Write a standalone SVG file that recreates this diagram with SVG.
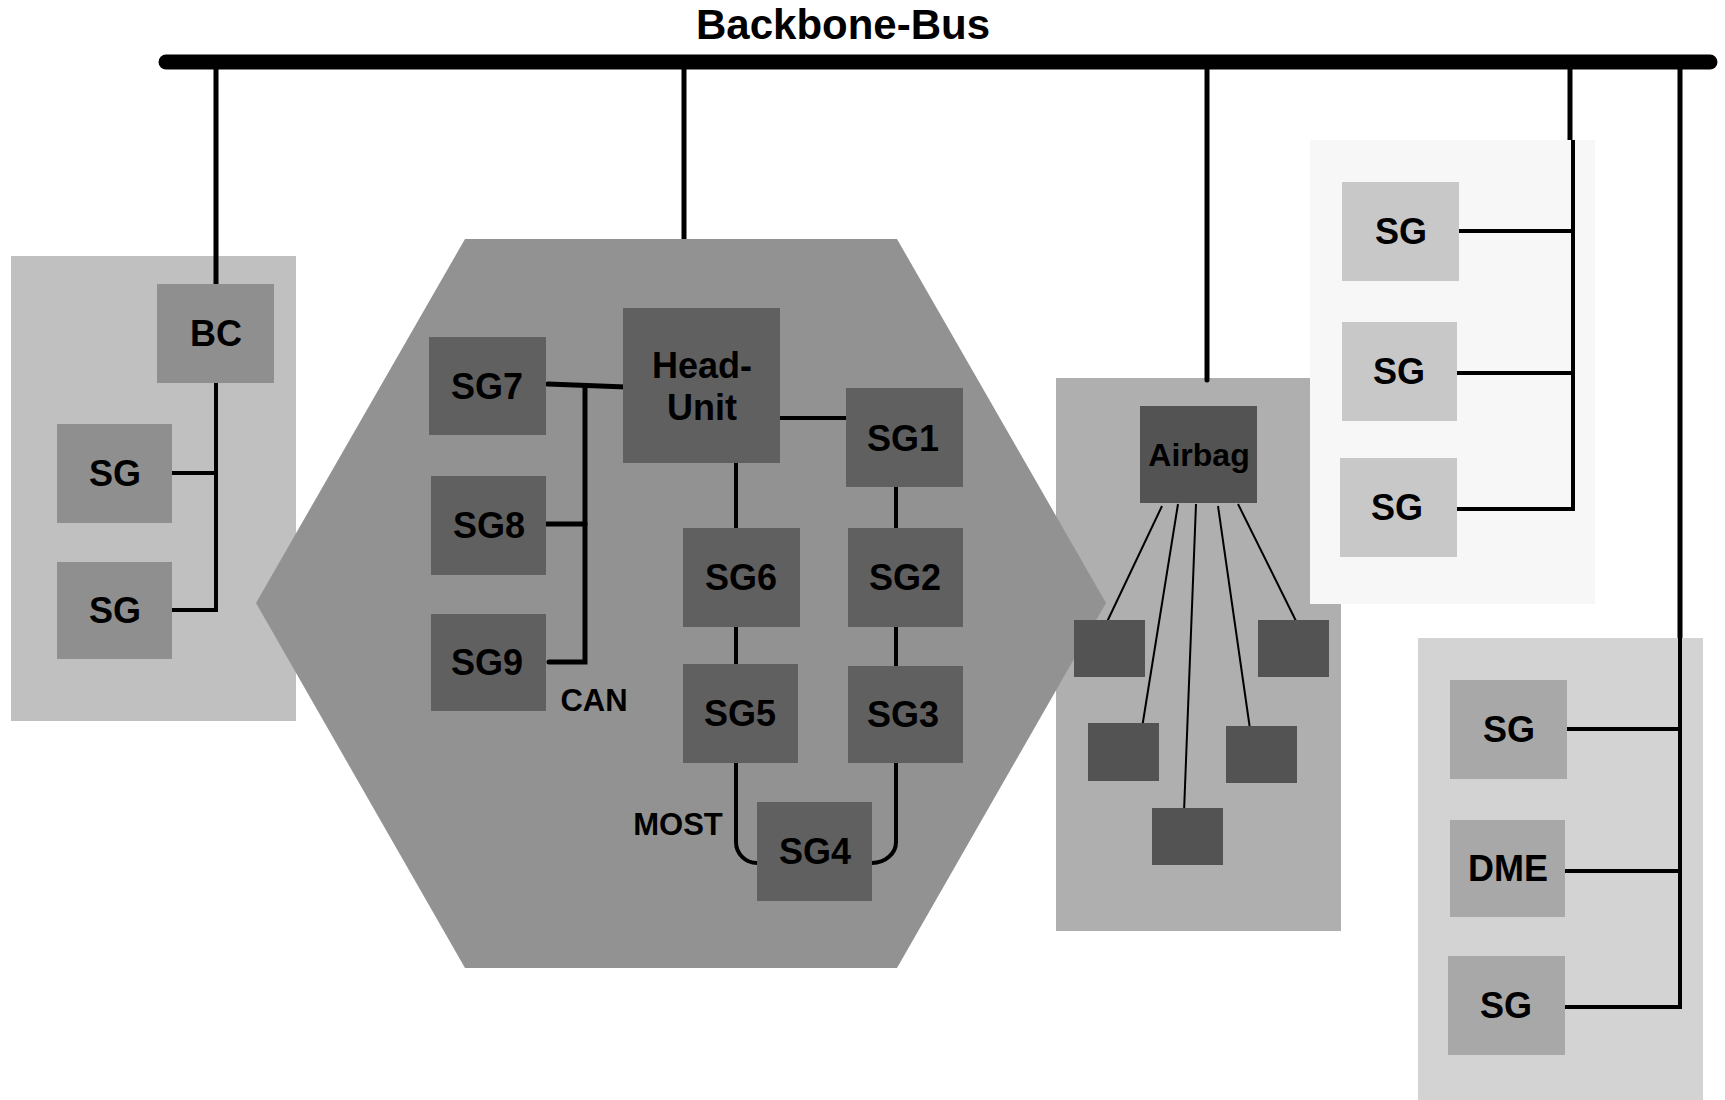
<svg xmlns="http://www.w3.org/2000/svg" width="1725" height="1100" viewBox="0 0 1725 1100">
<style>
text{font-family:"Liberation Sans",Arial,sans-serif;font-weight:bold;fill:#000;text-anchor:middle}
.lbl{font-size:36px}
.small{font-size:31px}
.ln{stroke:#000;stroke-width:4;fill:none;stroke-linecap:butt}
.drop{stroke:#000;stroke-width:5;fill:none}
.can{stroke:#000;stroke-width:5;fill:none;stroke-linecap:round}
.thin{stroke:#000;stroke-width:2;fill:none}
.n1{fill:#8f8f8f}.n2{fill:#606060}.n3{fill:#535353}.n4{fill:#c8c8c8}.n5{fill:#a8a8a8}
</style>
<g id="panels">
<rect id="panel-left" x="11" y="256" width="285" height="465" fill="#c0c0c0"/>
<rect id="panel-airbag" x="1056" y="378" width="285" height="553" fill="#afafaf"/>
<polygon id="panel-hex" points="465,239 897,239 1106,603 897,968 465,968 256,603" fill="#929292"/>
<rect id="panel-topright" x="1310" y="140" width="285" height="464" fill="#f7f7f7"/>
<rect id="panel-bottomright" x="1418" y="638" width="285" height="462" fill="#d3d3d3"/>
</g>
<g id="connectors">
<line x1="166" y1="62" x2="1710" y2="62" stroke="#000" stroke-width="15" stroke-linecap="round"/>
<line class="drop" x1="216" y1="62" x2="216" y2="286" stroke-linecap="round"/>
<line class="drop" x1="684" y1="62" x2="684" y2="239"/>
<line class="drop" x1="1207" y1="62" x2="1207" y2="380" stroke-linecap="round"/>
<line class="drop" x1="1570" y1="62" x2="1570" y2="140"/>
<line class="drop" x1="1680" y1="62" x2="1680" y2="638"/>
<polyline class="ln" points="216,383 216,610 163,610"/>
<line class="ln" x1="163" y1="473" x2="218" y2="473"/>
<line class="can" x1="548" y1="384" x2="626" y2="387"/>
<polyline class="can" points="585,386 585,662 549,662" stroke-linecap="butt"/>
<line class="can" x1="543" y1="524" x2="585" y2="524"/>
<line class="ln" x1="780" y1="418" x2="846" y2="418"/>
<line class="ln" x1="736" y1="463" x2="736" y2="528"/>
<line class="ln" x1="896" y1="487" x2="896" y2="528"/>
<line class="ln" x1="736" y1="627" x2="736" y2="664"/>
<line class="ln" x1="896" y1="627" x2="896" y2="666"/>
<path class="ln" d="M736 763 V842 A21 21 0 0 0 757 863"/>
<path class="ln" d="M896 763 V842 A24 21 0 0 1 872 863"/>
<line class="thin" x1="1162" y1="506" x2="1106" y2="624"/>
<line class="thin" x1="1178" y1="504" x2="1142" y2="728"/>
<line class="thin" x1="1196" y1="504" x2="1184" y2="812"/>
<line class="thin" x1="1218" y1="506" x2="1250" y2="729"/>
<line class="thin" x1="1238" y1="504" x2="1296" y2="621"/>
<polyline class="ln" points="1573,140 1573,509 1457,509"/>
<line class="ln" x1="1455" y1="231" x2="1573" y2="231" stroke-linecap="round"/>
<line class="ln" x1="1453" y1="373" x2="1573" y2="373" stroke-linecap="round"/>
<polyline class="ln" points="1680,638 1680,1007 1565,1007"/>
<line class="ln" x1="1563" y1="729" x2="1680" y2="729" stroke-linecap="round"/>
<line class="ln" x1="1561" y1="871" x2="1680" y2="871" stroke-linecap="round"/>
</g>
<text class="lbl" x="843" y="39" style="font-size:42px">Backbone-Bus</text>
<text class="small" x="594" y="711">CAN</text>
<text class="small" x="678" y="835">MOST</text>
<g id="node-bc"><rect class="n1" x="157" y="284" width="117" height="99"/><text class="lbl" x="216" y="346">BC</text></g>
<g id="node-left-sg1"><rect class="n1" x="57" y="424" width="115" height="99"/><text class="lbl" x="115" y="486">SG</text></g>
<g id="node-left-sg2"><rect class="n1" x="57" y="562" width="115" height="97"/><text class="lbl" x="115" y="623">SG</text></g>
<g id="node-sg7"><rect class="n2" x="429" y="337" width="117" height="98"/><text class="lbl" x="487" y="399">SG7</text></g>
<g id="node-sg8"><rect class="n2" x="431" y="476" width="115" height="99"/><text class="lbl" x="489" y="538">SG8</text></g>
<g id="node-sg9"><rect class="n2" x="431" y="614" width="115" height="97"/><text class="lbl" x="487" y="675">SG9</text></g>
<g id="node-headunit"><rect class="n2" x="623" y="308" width="157" height="155"/><text class="lbl" x="702" y="378">Head-</text><text class="lbl" x="702" y="420">Unit</text></g>
<g id="node-sg1"><rect class="n2" x="846" y="388" width="117" height="99"/><text class="lbl" x="903" y="451">SG1</text></g>
<g id="node-sg6"><rect class="n2" x="683" y="528" width="117" height="99"/><text class="lbl" x="741" y="590">SG6</text></g>
<g id="node-sg2"><rect class="n2" x="848" y="528" width="115" height="99"/><text class="lbl" x="905" y="590">SG2</text></g>
<g id="node-sg5"><rect class="n2" x="683" y="664" width="115" height="99"/><text class="lbl" x="740" y="726">SG5</text></g>
<g id="node-sg3"><rect class="n2" x="848" y="666" width="115" height="97"/><text class="lbl" x="903" y="727">SG3</text></g>
<g id="node-sg4"><rect class="n2" x="757" y="802" width="115" height="99"/><text class="lbl" x="815" y="864">SG4</text></g>
<g id="node-airbag"><rect class="n3" x="1140" y="406" width="117" height="97"/><text x="1199" y="466" style="font-size:32px">Airbag</text></g>
<g id="node-ab1"><rect class="n3" x="1074" y="620" width="71" height="57"/></g>
<g id="node-ab2"><rect class="n3" x="1088" y="723" width="71" height="58"/></g>
<g id="node-ab3"><rect class="n3" x="1152" y="808" width="71" height="57"/></g>
<g id="node-ab4"><rect class="n3" x="1226" y="726" width="71" height="57"/></g>
<g id="node-ab5"><rect class="n3" x="1258" y="620" width="71" height="57"/></g>
<g id="node-tr-sg1"><rect class="n4" x="1342" y="182" width="117" height="99"/><text class="lbl" x="1401" y="244">SG</text></g>
<g id="node-tr-sg2"><rect class="n4" x="1342" y="322" width="115" height="99"/><text class="lbl" x="1399" y="384">SG</text></g>
<g id="node-tr-sg3"><rect class="n4" x="1340" y="458" width="117" height="99"/><text class="lbl" x="1397" y="520">SG</text></g>
<g id="node-br-sg1"><rect class="n5" x="1450" y="680" width="117" height="99"/><text class="lbl" x="1509" y="742">SG</text></g>
<g id="node-br-dme"><rect class="n5" x="1450" y="820" width="115" height="97"/><text class="lbl" x="1508" y="881">DME</text></g>
<g id="node-br-sg2"><rect class="n5" x="1448" y="956" width="117" height="99"/><text class="lbl" x="1506" y="1018">SG</text></g>
</svg>
